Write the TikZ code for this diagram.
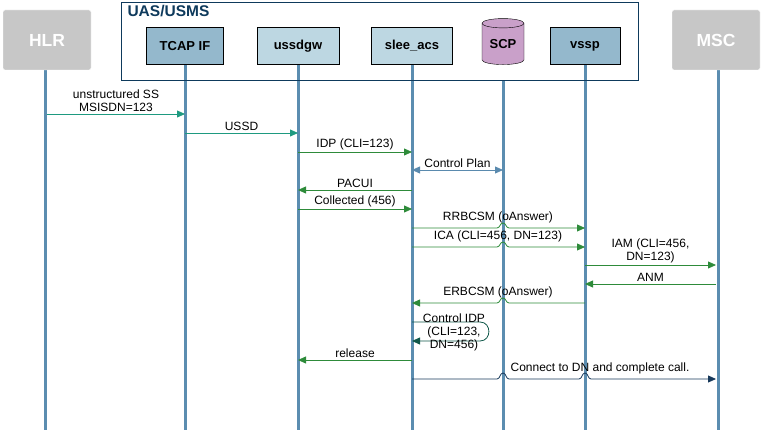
\documentclass[tikz,border=0pt]{standalone}
\usepackage{fontspec}
\setmainfont{Liberation Sans}
\usetikzlibrary{shapes.geometric,arrows.meta}
\definecolor{life}{HTML}{5B8DB0}
\definecolor{dark}{HTML}{0E3A5C}
\definecolor{teal}{HTML}{1E9A80}
\definecolor{grn}{HTML}{2E8B3A}
\definecolor{msgblue}{HTML}{5A8AAE}
\definecolor{navy}{HTML}{17385A}
\definecolor{loopc}{HTML}{11584A}
\tikzset{
 ext/.style={draw=white,fill=black!22,rounded corners=2pt,minimum width=88pt,minimum height=60pt,text=white,font=\bfseries\fontsize{17.5}{20}\selectfont},
 comp/.style={draw=black,minimum width=78pt,minimum height=37pt,font=\bfseries\fontsize{13}{15}\selectfont},
 lifeline/.style={draw=life,line width=3pt},
 msg/.style={-{Triangle[length=8pt,width=7pt]},line width=0.8pt},
 lbl/.style={font=\fontsize{12}{13}\selectfont,align=center,inner sep=1pt},
}
\begin{document}
\begin{tikzpicture}[x=1pt,y=-1pt]
\useasboundingbox (0,0) rectangle (766,430);
% lifelines
\foreach \x in {45,185,298,412,503,585,718}{\draw[lifeline] (\x,60) -- (\x,430);}
\node[draw=dark,line width=1.2pt,fill=white,minimum width=517pt,minimum height=78pt,anchor=north west] (uas) at (121,2) {};
\node[anchor=north west,text=dark,font=\bfseries\fontsize{15.5}{17}\selectfont] at (124,2) {UAS/USMS};
\node[ext] (hlr) at (47,40) {HLR};
\node[ext] (msc) at (716,40) {MSC};
\node[comp,fill={rgb,255:red,148;green,184;blue,204},minimum width=77pt] (tcap) at (185,46) {TCAP IF};
\node[comp,fill={rgb,255:red,189;green,215;blue,226},minimum width=82pt] (ussd) at (298,46) {ussdgw};
\node[comp,fill={rgb,255:red,189;green,215;blue,226},minimum width=81pt] (slee) at (412,46) {slee\_acs};
\node[cylinder,shape border rotate=90,draw=black,fill={rgb,255:red,201;green,160;blue,201},minimum width=42pt,minimum height=46pt,aspect=0.35,inner sep=0pt,font=\bfseries\fontsize{13}{15}\selectfont] (scp) at (503,44) {SCP};
\node[comp,fill={rgb,255:red,148;green,184;blue,204},minimum width=70pt] (vssp) at (585,46) {vssp};
\draw[lifeline] (185,65)--(185,80) (298,65)--(298,80) (412,65)--(412,80) (585,65)--(585,80);
% messages
\draw[msg,teal] (hlr|-0,114) -- (tcap|-0,114) node[lbl,midway,above=1pt,text=black] {unstructured SS\\MSISDN=123};
\draw[msg,teal] (tcap|-0,133) -- (ussd|-0,133) node[lbl,midway,above=1pt,text=black] {USSD};
\draw[msg,grn] (ussd|-0,152) -- (slee|-0,152) node[lbl,midway,above=1pt,text=black] {IDP (CLI=123)};
\draw[{Triangle[length=8pt,width=7pt]}-{Triangle[length=8pt,width=7pt]},line width=0.8pt,msgblue] (slee|-0,170) -- (scp|-0,170) node[lbl,midway,above=1pt,text=black] {Control Plan};
\draw[msg,grn] (slee|-0,190) -- (ussd|-0,190) node[lbl,midway,above=1pt,text=black] {PACUI};
\draw[msg,grn] (ussd|-0,209) -- (slee|-0,209) node[lbl,midway,above=1pt,text=black] {Collected (456)};
\draw[msg,grn] (slee|-0,228) -- (497,228) to[out=0,in=180] (503,223) to[out=0,in=180] (509,228) -- (vssp|-0,228);
\node[lbl] at (498,217) {RRBCSM (oAnswer)};
\draw[msg,grn] (slee|-0,247) -- (497,247) to[out=0,in=180] (503,242) to[out=0,in=180] (509,247) -- (vssp|-0,247);
\node[lbl] at (498,236) {ICA (CLI=456, DN=123)};
\draw[msg,grn] (vssp|-0,265) -- (msc|-0,265) node[lbl,midway,above=1pt,text=black] {IAM (CLI=456,\\DN=123)};
\draw[msg,grn] (msc|-0,284) -- (vssp|-0,284) node[lbl,midway,above=1pt,text=black] {ANM};
\draw[msg,grn] (vssp|-0,303) -- (509,303) to[out=180,in=0] (503,298) to[out=180,in=0] (497,303) -- (slee|-0,303);
\node[lbl] at (498,292) {ERBCSM (oAnswer)};
\draw[msg,loopc] (slee|-0,322) -- (480,322) to[out=0,in=0,looseness=1.6] (480,341) -- (slee|-0,341);
\node[lbl] at (454,332) {Control IDP\\(CLI=123,\\DN=456)};
\draw[msg,grn] (slee|-0,360) -- (ussd|-0,360) node[lbl,midway,above=1pt,text=black] {release};
\draw[msg,navy] (slee|-0,379) -- (497,379) to[out=0,in=180] (503,373) to[out=0,in=180] (509,379) -- (579,379) to[out=0,in=180] (585,373) to[out=0,in=180] (591,379) -- (msc|-0,379);
\node[lbl] at (600,368) {Connect to DN and complete call.};
\end{tikzpicture}
\end{document}
